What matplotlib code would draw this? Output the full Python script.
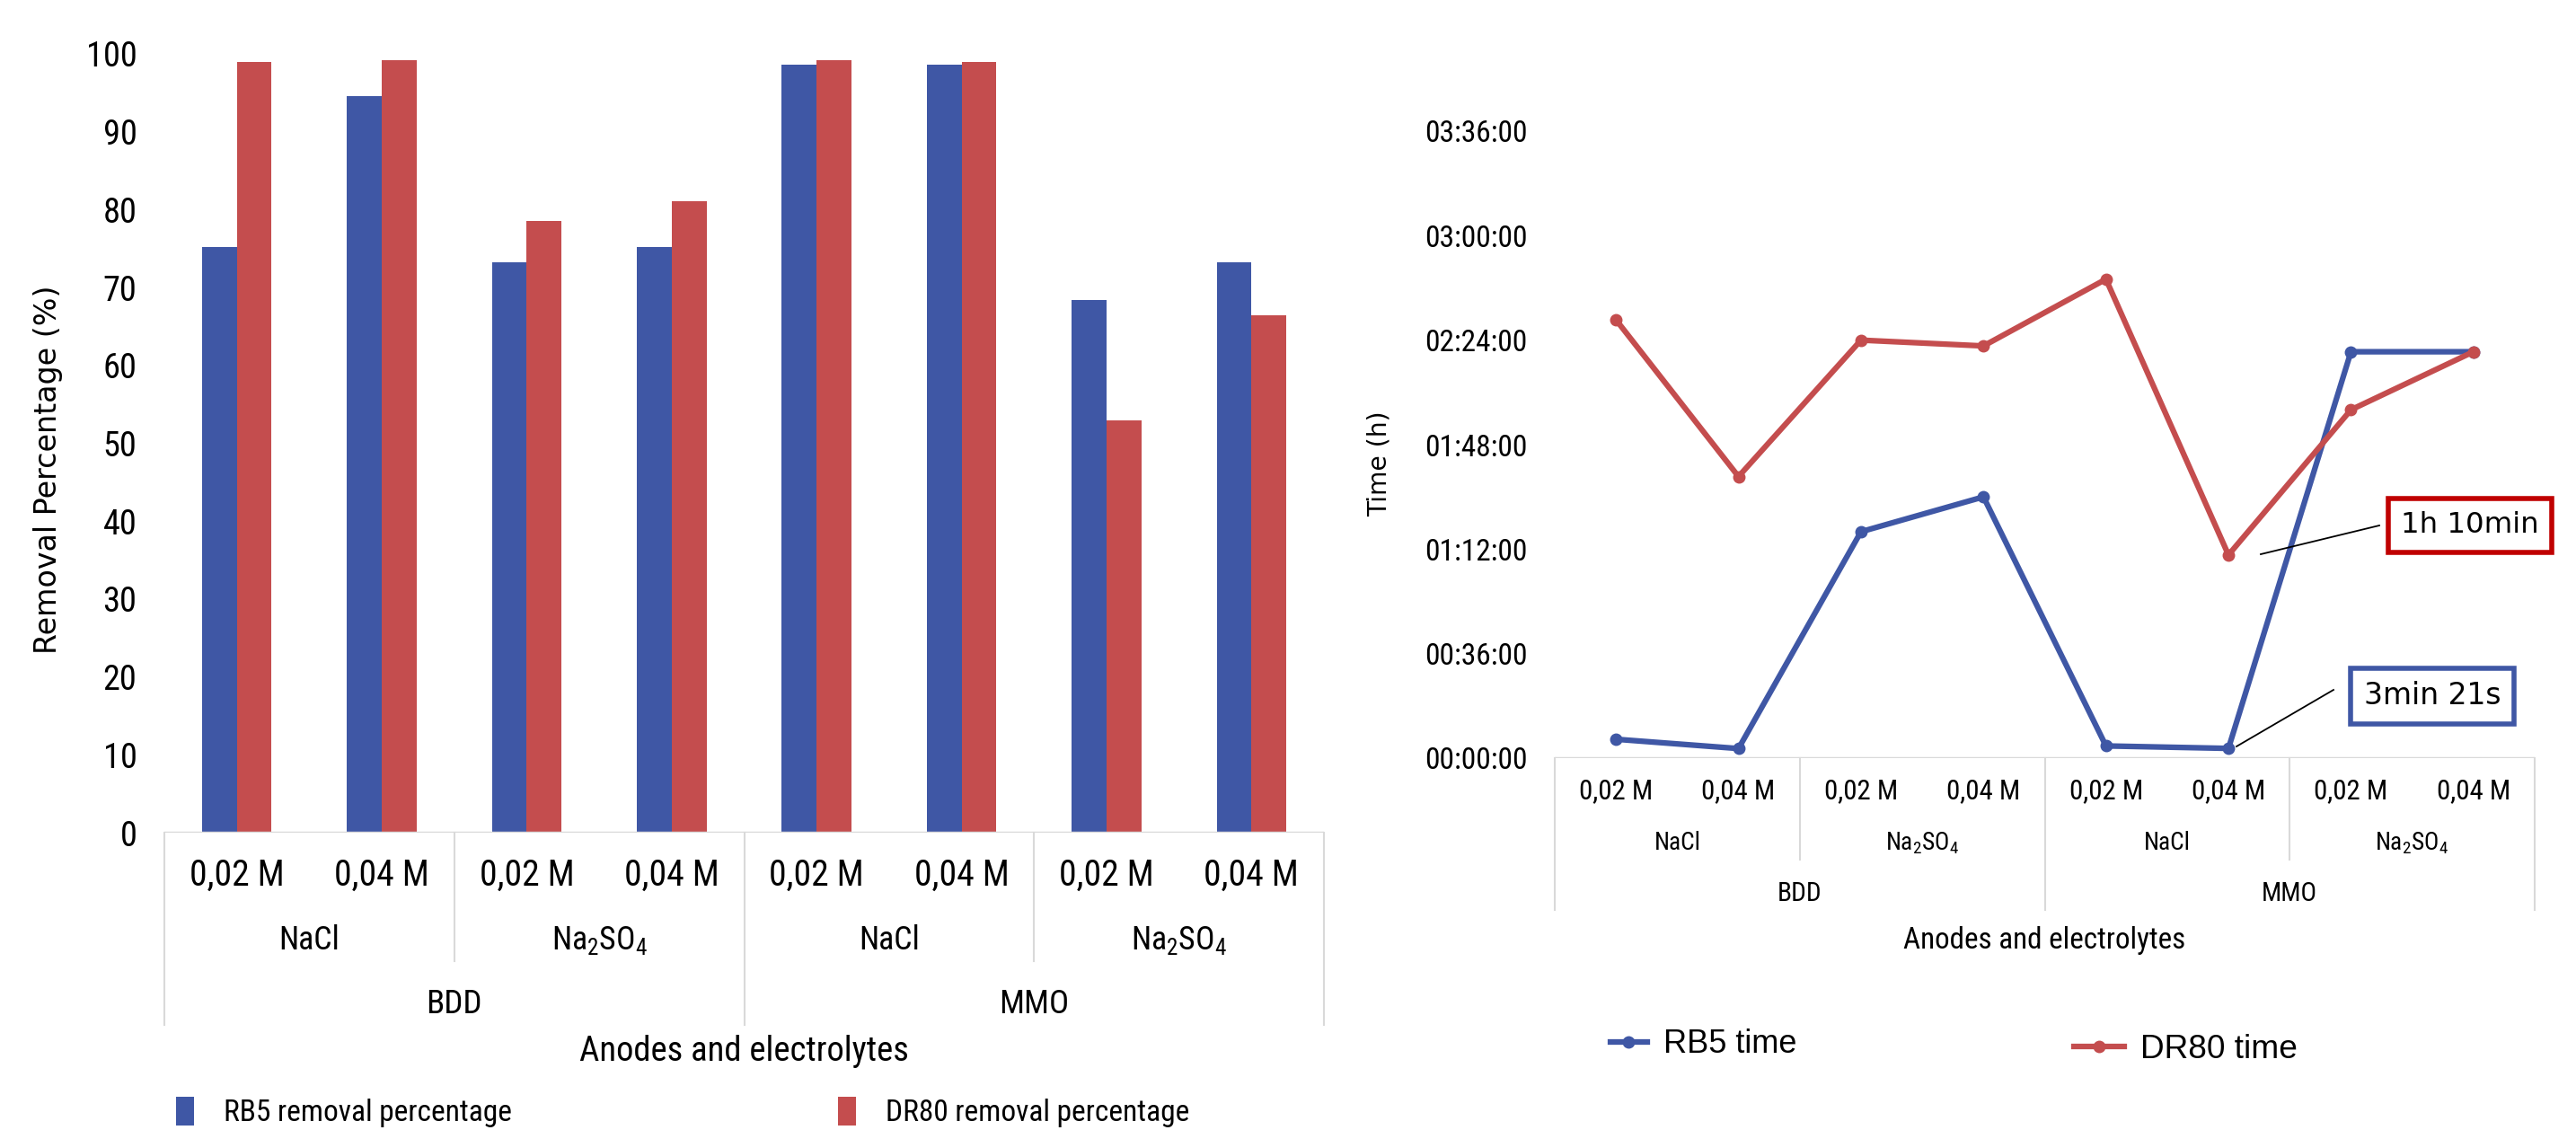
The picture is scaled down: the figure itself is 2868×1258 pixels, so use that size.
import matplotlib
matplotlib.use('Agg')
import matplotlib.pyplot as plt
import matplotlib.transforms as mtransforms
from matplotlib import font_manager
from matplotlib.ticker import FuncFormatter, MultipleLocator
import numpy as np

# data
concentrations = ['0,02 M', '0,04 M'] * 4
electrolytes = ['NaCl', r'$\mathregular{Na_2SO_4}$', 'NaCl', r'$\mathregular{Na_2SO_4}$']
anodes = ['BDD', 'MMO']

rb5_removal = [75.2, 94.6, 73.2, 75.2, 98.6, 98.6, 68.4, 73.2]
dr80_removal = [99.0, 99.2, 78.6, 81.1, 99.2, 99.0, 52.9, 66.4]

# times in minutes
rb5_time = [6.5, 3.3, 78.0, 90.0, 4.2, 3.35, 140.0, 140.0]
dr80_time = [151.0, 97.0, 144.0, 142.0, 165.0, 70.0, 120.0, 140.0]

blue = '#3F57A5'
red = '#C44D4E'

# look for a condensed sans face (Calibri-like look)
narrow_path = None
for want in ['Liberation Sans Narrow', 'Roboto Condensed', 'Open Sans Condensed',
             'Noto Sans', 'DejaVu Sans']:
    for f in font_manager.fontManager.ttflist:
        if (f.name == want and f.style == 'normal' and f.weight in (400, 'normal', 'regular')
                and (want == 'Liberation Sans Narrow' or f.stretch in ('condensed', 'semi-condensed'))):
            narrow_path = f.fname
            break
    if narrow_path:
        break


def nfont(size):
    if narrow_path:
        return font_manager.FontProperties(fname=narrow_path, size=size)
    return font_manager.FontProperties(family='DejaVu Sans', size=size)


def wfont(size):
    return font_manager.FontProperties(family='DejaVu Sans', size=size)


def afont(size):
    return font_manager.FontProperties(family='Liberation Sans', size=size)


W, H = 2868, 1258
fig = plt.figure(figsize=(W / 100, H / 100), dpi=100)
renderer = fig.canvas.get_renderer()


def fit(s, width_px, font):
    # font size that makes string s about width_px wide (as measured on the reference)
    wpx, _, _ = renderer.get_text_width_height_descent(s, font(10), ismath=False)
    return 10 * width_px / wpx


def px_axes(x0, y0, x1, y1):
    return fig.add_axes([x0 / W, 1 - y1 / H, (x1 - x0) / W, (y1 - y0) / H])


def category_table(ax, y_conc, y_elec, y_anode, y_short, y_long, fs_conc, fs_elec, fs_anode,
                   line_col='#D9D9D9'):
    trans = mtransforms.blended_transform_factory(ax.transData, ax.transAxes)
    n = len(concentrations)
    for i, c in enumerate(concentrations):
        ax.text(i, y_conc, c, transform=trans, ha='center', va='center',
                fontproperties=nfont(fs_conc))
    for j, e in enumerate(electrolytes):
        ax.text(2 * j + 0.5, y_elec, e, transform=trans, ha='center', va='center',
                fontproperties=nfont(fs_elec))
    for k, a in enumerate(anodes):
        ax.text(4 * k + 1.5, y_anode, a, transform=trans, ha='center', va='center',
                fontproperties=nfont(fs_anode))
    for b in range(0, n + 1, 2):
        ybot = y_long if b % 4 == 0 else y_short
        ax.plot([b - 0.5, b - 0.5], [0, ybot], transform=trans, color=line_col,
                lw=1.5, clip_on=False)
    ax.axhline(0, color=line_col, lw=2.5, zorder=5)


# ---------- left: removal percentage ----------
ax1 = px_axes(183, 60, 1474, 927)
x = np.arange(len(concentrations))
w = 0.24
b1 = ax1.bar(x - w / 2, rb5_removal, w, color=blue, label='RB5 removal percentage')
b2 = ax1.bar(x + w / 2, dr80_removal, w, color=red, label='DR80 removal percentage')
ax1.set_xlim(-0.5, 7.5)
ax1.set_ylim(0, 100)
ax1.yaxis.set_major_locator(MultipleLocator(10))
ax1.set_xticks([])
for s in ax1.spines.values():
    s.set_visible(False)
ax1.tick_params(axis='y', length=0, pad=22)
for t in ax1.get_yticklabels():
    t.set_fontproperties(nfont(fit('100', 56, nfont)))
ax1.set_ylabel('Removal Percentage (%)',
               fontproperties=wfont(fit('Removal Percentage (%)', 410, wfont)))
ax1.yaxis.set_label_coords(-0.0875, 0.466)
category_table(ax1, -0.055, -0.138, -0.220, -0.165, -0.247,
               fit('0,02 M', 105, nfont), fit('NaCl', 68, nfont), fit('BDD', 63, nfont))
ax1.text(0.5, -0.281, 'Anodes and electrolytes', transform=ax1.transAxes,
         ha='center', va='center',
         fontproperties=nfont(fit('Anodes and electrolytes', 364, nfont)))

leg_fs = fit('RB5 removal percentage', 319, nfont)
fig.legend(handles=[b1], loc='center left', bbox_to_anchor=(166 / W, 1 - 1238 / H),
           frameon=False, prop=nfont(leg_fs),
           handlelength=0.6, handleheight=1.1, handletextpad=1.0)
fig.legend(handles=[b2], loc='center left', bbox_to_anchor=(903 / W, 1 - 1238 / H),
           frameon=False, prop=nfont(leg_fs),
           handlelength=0.6, handleheight=1.1, handletextpad=1.0)

# ---------- right: time ----------
ax2 = px_axes(1731, 146, 2822, 844)
l1, = ax2.plot(x, rb5_time, color=blue, lw=4.5, marker='o', ms=9, label='RB5 time')
l2, = ax2.plot(x, dr80_time, color=red, lw=4.5, marker='o', ms=9, label='DR80 time')
ax2.set_xlim(-0.5, 7.5)
ax2.set_ylim(0, 216)
ax2.yaxis.set_major_locator(MultipleLocator(36))
ax2.yaxis.set_major_formatter(FuncFormatter(
    lambda v, p: '%02d:%02d:00' % (int(round(v)) // 60, int(round(v)) % 60)))
ax2.set_xticks([])
for s in ax2.spines.values():
    s.set_visible(False)
ax2.tick_params(axis='y', length=0, pad=22)
for t in ax2.get_yticklabels():
    t.set_fontproperties(nfont(fit('03:36:00', 113, nfont)))
ax2.set_ylabel('Time (h)', fontproperties=wfont(fit('Time (h)', 118, wfont)))
ax2.yaxis.set_label_coords(-0.166, 0.47)
category_table(ax2, -0.053, -0.136, -0.216, -0.162, -0.242,
               fit('0,02 M', 82, nfont), fit('NaCl', 52, nfont), fit('BDD', 50, nfont))
ax2.text(0.5, -0.291, 'Anodes and electrolytes', transform=ax2.transAxes,
         ha='center', va='center',
         fontproperties=nfont(fit('Anodes and electrolytes', 312, nfont)))

fig.legend(handles=[l1], loc='center left', bbox_to_anchor=(1760 / W, 1 - 1163 / H),
           frameon=False, prop=afont(fit('RB5 time', 149, afont)),
           handlelength=1.15, handletextpad=0.5)
fig.legend(handles=[l2], loc='center left', bbox_to_anchor=(2276 / W, 1 - 1168 / H),
           frameon=False, prop=afont(fit('DR80 time', 175, afont)),
           handlelength=1.5, handletextpad=0.5)

# callouts
fig.text(2750 / W, 1 - 585 / H, '1h 10min', ha='center', va='center',
         fontproperties=wfont(fit('1h 10min', 153, wfont)),
         bbox=dict(boxstyle='square,pad=0.45', fc='white', ec='#C00000', lw=4))
fig.add_artist(plt.Line2D([2517 / W, 2649 / W], [1 - 617 / H, 1 - 585 / H],
                          color='black', lw=1.3))
fig.text(2708 / W, 1 - 775 / H, '3min 21s', ha='center', va='center',
         fontproperties=wfont(fit('3min 21s', 152, wfont)),
         bbox=dict(boxstyle='square,pad=0.45', fc='white', ec=blue, lw=4))
fig.add_artist(plt.Line2D([2490 / W, 2598 / W], [1 - 831 / H, 1 - 768 / H],
                          color='black', lw=1.3))

fig.savefig('out.png', dpi=100)
